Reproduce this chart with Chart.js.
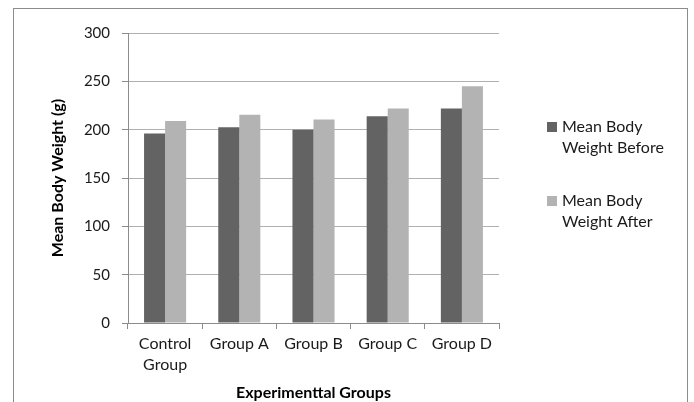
<!DOCTYPE html>
<html>
<head>
<meta charset="utf-8">
<script src="https://cdn.jsdelivr.net/npm/chart.js@4/dist/chart.umd.min.js"></script>
<style>
  html, body { margin: 0; padding: 0; background: #fff; }
  #wrap { width: 694px; height: 402px; position: relative; }
</style>
</head>
<body>
<div id="wrap"><canvas id="chart" width="694" height="402"></canvas></div>
<script>
// Groups on the x axis
const categories = [['Control', 'Group'], 'Group A', 'Group B', 'Group C', 'Group D'];
// Mean body weight (g) per group
const weightBefore = [196, 202.5, 200, 214, 222];
const weightAfter = [209, 215.5, 210.5, 222, 245];
// Series names, split over two legend lines
const seriesBefore = ['Mean Body', 'Weight Before'];
const seriesAfter = ['Mean Body', 'Weight After'];
// Value axis ticks
const yTicks = [0, 50, 100, 150, 200, 250, 300];

const FONT = 'Lato, "Open Sans", sans-serif';

// Outer frame around the whole chart
const framePlugin = {
  id: 'frame',
  afterDraw(chart) {
    const ctx = chart.ctx;
    ctx.save();
    ctx.strokeStyle = '#8c8c8c';
    ctx.lineWidth = 1;
    ctx.strokeRect(13.5, 8.5, 674, 420);
    ctx.restore();
  }
};

// Legend drawn to the right of the plot, one square per series, wrapped text
const sideLegend = {
  id: 'sideLegend',
  afterDraw(chart) {
    const ctx = chart.ctx;
    const x0 = 547;
    const tops = [121, 195];
    ctx.save();
    ctx.font = '16px ' + FONT;
    ctx.textBaseline = 'alphabetic';
    ctx.textAlign = 'left';
    chart.data.datasets.forEach((ds, i) => {
      const y = tops[i];
      ctx.fillStyle = ds.backgroundColor;
      ctx.fillRect(x0, y + 1, 10, 10);
      ctx.fillStyle = '#1a1a1a';
      ds.legendLines.forEach((line, j) => {
        ctx.fillText(line, x0 + 15, y + 11 + j * 21);
      });
    });
    ctx.restore();
  }
};

new Chart(document.getElementById('chart'), {
  type: 'bar',
  data: {
    labels: categories,
    datasets: [
      {
        label: seriesBefore.join(' '),
        legendLines: seriesBefore,
        data: weightBefore,
        backgroundColor: '#636363',
        categoryPercentage: 0.567,
        barPercentage: 1.0
      },
      {
        label: seriesAfter.join(' '),
        legendLines: seriesAfter,
        data: weightAfter,
        backgroundColor: '#b3b3b3',
        categoryPercentage: 0.567,
        barPercentage: 1.0
      }
    ]
  },
  options: {
    responsive: false,
    animation: false,
    layout: { padding: { left: 0, right: 195, top: 33, bottom: 0 } },
    plugins: {
      legend: { display: false },
      tooltip: { enabled: false }
    },
    scales: {
      x: {
        grid: {
          display: true,
          drawOnChartArea: false,
          drawTicks: true,
          tickLength: 6,
          color: '#8c8c8c',
          offset: true
        },
        border: { color: '#8c8c8c', width: 1 },
        ticks: {
          color: '#1a1a1a',
          padding: 5,
          maxRotation: 0,
          autoSkip: false,
          font: { family: FONT, size: 16, lineHeight: 1.28 }
        },
        title: {
          display: true,
          text: 'Experimenttal Groups',
          color: '#000',
          padding: { top: 0, bottom: 0 },
          font: { family: FONT, size: 16, weight: 'bold' }
        },
        afterFit(scale) { scale.height = 79; }
      },
      y: {
        min: 0,
        max: 300,
        afterBuildTicks(scale) { scale.ticks = yTicks.map(v => ({ value: v })); },
        grid: {
          color: '#b0b0b0',
          tickLength: 6,
          tickColor: '#8c8c8c',
          drawTicks: true
        },
        border: { color: '#8c8c8c', width: 1 },
        ticks: {
          color: '#1a1a1a',
          padding: 12,
          font: { family: FONT, size: 15 }
        },
        title: {
          display: true,
          text: 'Mean Body Weight (g)',
          color: '#000',
          padding: { top: 48, bottom: 0 },
          font: { family: FONT, size: 16, weight: 'bold' }
        },
        afterFit(scale) { scale.width = 128; }
      }
    }
  },
  plugins: [framePlugin, sideLegend]
});
</script>
</body>
</html>
